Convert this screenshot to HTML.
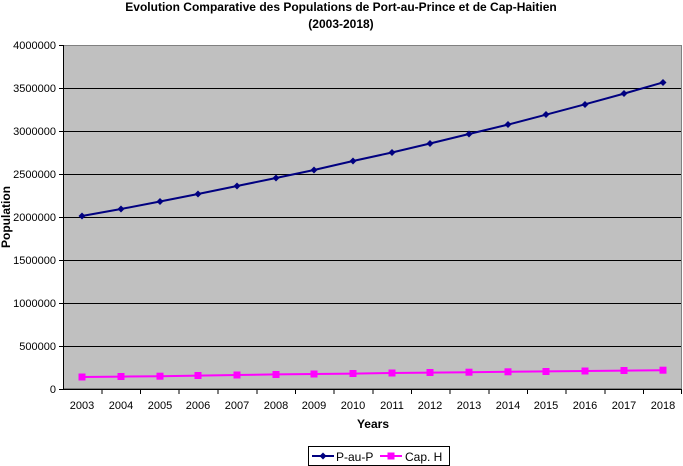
<!DOCTYPE html>
<html><head><style>body{margin:0;background:#fff}svg{display:block;font-family:"Liberation Sans",sans-serif}</style></head>
<body>
<svg width="683" height="466" viewBox="0 0 683 466">
<text x="341" y="11" font-size="12" font-weight="bold" text-anchor="middle">Evolution Comparative des Populations de Port-au-Prince et de Cap-Haitien</text>
<text x="341" y="28" font-size="12" font-weight="bold" text-anchor="middle">(2003-2018)</text>
<rect x="63" y="45" width="619" height="344" fill="#c0c0c0"/>
<g stroke="#000" stroke-width="1">
<line x1="63" y1="88.5" x2="682" y2="88.5"/><line x1="63" y1="131.5" x2="682" y2="131.5"/>
<line x1="63" y1="174.5" x2="682" y2="174.5"/><line x1="63" y1="217.5" x2="682" y2="217.5"/>
<line x1="63" y1="260.5" x2="682" y2="260.5"/><line x1="63" y1="303.5" x2="682" y2="303.5"/>
<line x1="63" y1="346.5" x2="682" y2="346.5"/>
</g>
<line x1="63" y1="45.5" x2="682" y2="45.5" stroke="#808080"/>
<line x1="681.5" y1="45" x2="681.5" y2="389" stroke="#808080"/>
<line x1="63" y1="388.5" x2="682" y2="388.5" stroke="#808080"/>
<g stroke="#000">
<line x1="63.5" y1="45" x2="63.5" y2="390"/>
<line x1="63" y1="389.5" x2="682" y2="389.5"/>
<line x1="59" y1="45.5" x2="63" y2="45.5"/><line x1="59" y1="88.5" x2="63" y2="88.5"/><line x1="59" y1="131.5" x2="63" y2="131.5"/><line x1="59" y1="174.5" x2="63" y2="174.5"/><line x1="59" y1="217.5" x2="63" y2="217.5"/><line x1="59" y1="260.5" x2="63" y2="260.5"/><line x1="59" y1="303.5" x2="63" y2="303.5"/><line x1="59" y1="346.5" x2="63" y2="346.5"/><line x1="59" y1="389.5" x2="63" y2="389.5"/>
</g>
<g stroke="#000" id="xt"></g>
<g font-size="11" text-anchor="end">
<text x="56" y="49">4000000</text><text x="56" y="92">3500000</text><text x="56" y="135">3000000</text><text x="56" y="178">2500000</text><text x="56" y="221">2000000</text><text x="56" y="264">1500000</text><text x="56" y="307">1000000</text><text x="56" y="350">500000</text><text x="56" y="393">0</text>
</g>
<text transform="translate(10,217) rotate(-90)" font-size="12" font-weight="bold" text-anchor="middle">Population</text>
<text x="373" y="428" font-size="12" font-weight="bold" text-anchor="middle">Years</text>
<g stroke="#000">
<line x1="102" y1="389" x2="102" y2="394"/><line x1="140.5" y1="389" x2="140.5" y2="394"/><line x1="179" y1="389" x2="179" y2="394"/><line x1="218" y1="389" x2="218" y2="394"/><line x1="257" y1="389" x2="257" y2="394"/><line x1="295.5" y1="389" x2="295.5" y2="394"/><line x1="334" y1="389" x2="334" y2="394"/><line x1="373" y1="389" x2="373" y2="394"/><line x1="411.5" y1="389" x2="411.5" y2="394"/><line x1="450" y1="389" x2="450" y2="394"/><line x1="489" y1="389" x2="489" y2="394"/><line x1="527.5" y1="389" x2="527.5" y2="394"/><line x1="566" y1="389" x2="566" y2="394"/><line x1="605" y1="389" x2="605" y2="394"/><line x1="643.5" y1="389" x2="643.5" y2="394"/><line x1="681.5" y1="389" x2="681.5" y2="394"/>
</g>
<g font-size="11" text-anchor="middle">
<text x="82" y="409">2003</text><text x="121" y="409">2004</text><text x="160" y="409">2005</text><text x="198" y="409">2006</text><text x="237" y="409">2007</text><text x="276" y="409">2008</text><text x="314" y="409">2009</text><text x="353" y="409">2010</text><text x="392" y="409">2011</text><text x="430" y="409">2012</text><text x="469" y="409">2013</text><text x="508" y="409">2014</text><text x="546" y="409">2015</text><text x="585" y="409">2016</text><text x="624" y="409">2017</text><text x="663" y="409">2018</text>
</g>
<polyline fill="none" stroke="#000080" stroke-width="2" points="82,216 121,209 160,201.5 198,194 237,186 276,178 314,170 353,161 392,152.5 430,143.5 469,134 508,124.6 546,114.7 585,104.3 624,93.6 663,82.4"/>
<g fill="#000080">
<path d="M82 212.5l3.5 3.5-3.5 3.5-3.5-3.5z"/><path d="M121 205.5l3.5 3.5-3.5 3.5-3.5-3.5z"/><path d="M160 198l3.5 3.5-3.5 3.5-3.5-3.5z"/><path d="M198 190.5l3.5 3.5-3.5 3.5-3.5-3.5z"/><path d="M237 182.5l3.5 3.5-3.5 3.5-3.5-3.5z"/><path d="M276 174.5l3.5 3.5-3.5 3.5-3.5-3.5z"/><path d="M314 166.5l3.5 3.5-3.5 3.5-3.5-3.5z"/><path d="M353 157.5l3.5 3.5-3.5 3.5-3.5-3.5z"/><path d="M392 149l3.5 3.5-3.5 3.5-3.5-3.5z"/><path d="M430 140l3.5 3.5-3.5 3.5-3.5-3.5z"/><path d="M469 130.5l3.5 3.5-3.5 3.5-3.5-3.5z"/><path d="M508 121l3.5 3.5-3.5 3.5-3.5-3.5z"/><path d="M546 111l3.5 3.5-3.5 3.5-3.5-3.5z"/><path d="M585 101l3.5 3.5-3.5 3.5-3.5-3.5z"/><path d="M624 90l3.5 3.5-3.5 3.5-3.5-3.5z"/><path d="M663 79l3.5 3.5-3.5 3.5-3.5-3.5z"/>
</g>
<polyline fill="none" stroke="#ff00ff" stroke-width="2" points="82,377 121,376.6 160,376.2 198,375.6 237,375 276,374.4 314,374 353,373.6 392,373 430,372.6 469,372.2 508,371.8 546,371.4 585,371 624,370.6 663,370.2"/>
<g fill="#ff00ff">
<rect x="78.5" y="373.5" width="7" height="7"/><rect x="117.5" y="373" width="7" height="7"/><rect x="156.5" y="372.7" width="7" height="7"/><rect x="194.5" y="372" width="7" height="7"/><rect x="233.5" y="371.5" width="7" height="7"/><rect x="272.5" y="371" width="7" height="7"/><rect x="310.5" y="370.5" width="7" height="7"/><rect x="349.5" y="370" width="7" height="7"/><rect x="388.5" y="369.5" width="7" height="7"/><rect x="426.5" y="369" width="7" height="7"/><rect x="465.5" y="368.7" width="7" height="7"/><rect x="504.5" y="368.3" width="7" height="7"/><rect x="542.5" y="368" width="7" height="7"/><rect x="581.5" y="367.5" width="7" height="7"/><rect x="620.5" y="367" width="7" height="7"/><rect x="659.5" y="366.7" width="7" height="7"/>
</g>
<rect x="308.5" y="446.5" width="141" height="19" fill="#fff" stroke="#000"/>
<line x1="312" y1="456" x2="334" y2="456" stroke="#000080" stroke-width="2"/>
<path d="M323 452.5l3.5 3.5-3.5 3.5-3.5-3.5z" fill="#000080"/>
<text x="336" y="461" font-size="12">P-au-P</text>
<line x1="380" y1="456" x2="402" y2="456" stroke="#ff00ff" stroke-width="2"/>
<rect x="387.5" y="452.5" width="7" height="7" fill="#ff00ff"/>
<text x="405" y="461" font-size="12">Cap. H</text>
</svg>
</body></html>
